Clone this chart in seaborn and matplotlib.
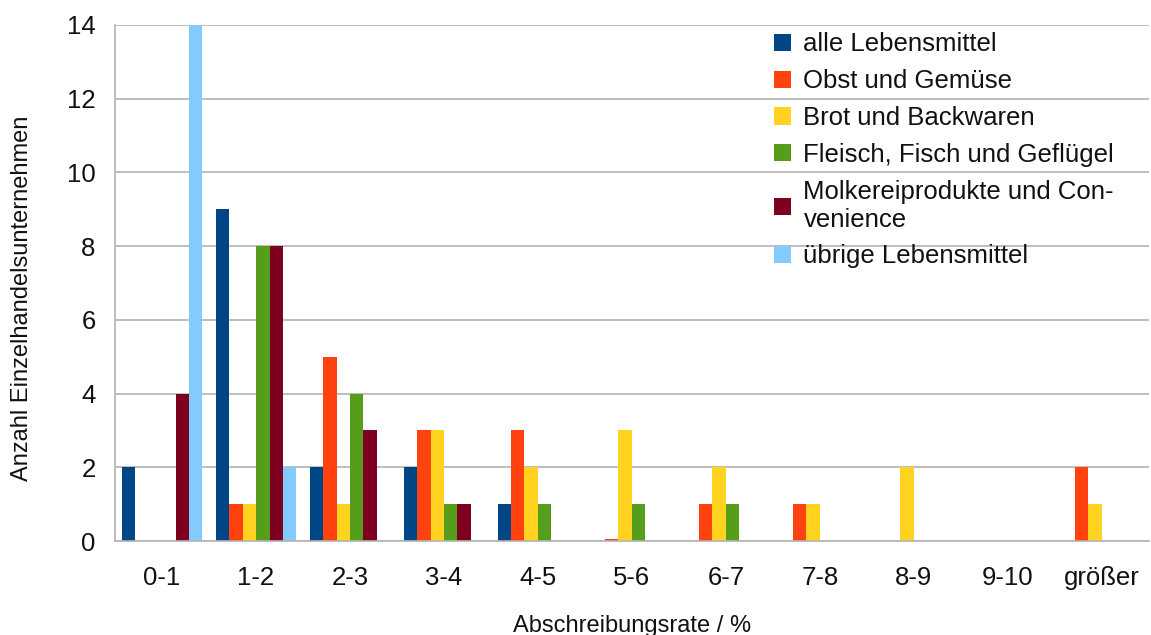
import pandas as pd
import seaborn as sns
import matplotlib.pyplot as plt
from matplotlib.patches import Patch

# values
categories = ["0-1", "1-2", "2-3", "3-4", "4-5", "5-6", "6-7", "7-8", "8-9", "9-10", "größer"]
alle = [2, 9, 2, 2, 1, 0, 0, 0, 0, 0, 0]
obst = [0, 1, 5, 3, 3, 0.05, 1, 1, 0, 0, 2]
brot = [0, 1, 1, 3, 2, 3, 2, 1, 2, 0, 1]
fleisch = [0, 8, 4, 1, 1, 1, 1, 0, 0, 0, 0]
molkerei = [4, 8, 3, 1, 0, 0, 0, 0, 0, 0, 0]
uebrige = [14, 2, 0, 0, 0, 0, 0, 0, 0, 0, 0]

series_names = ["alle Lebensmittel", "Obst und Gemüse", "Brot und Backwaren",
                "Fleisch, Fisch und Geflügel", "Molkereiprodukte und Con-\nvenience",
                "übrige Lebensmittel"]
colors = ["#004586", "#ff420e", "#ffd320", "#579d1c", "#7e0021", "#83caff"]

rows = []
for name, vals in zip(series_names, [alle, obst, brot, fleisch, molkerei, uebrige]):
    for cat, v in zip(categories, vals):
        rows.append({"Kategorie": cat, "Gruppe": name, "Anzahl": v})
df = pd.DataFrame(rows)

sns.set_style("white")
plt.rcParams["font.family"] = ["Liberation Sans", "DejaVu Sans"]
plt.rcParams["text.color"] = "#111111"
plt.rcParams["axes.labelcolor"] = "#111111"

fig = plt.figure(figsize=(11.51, 6.35), dpi=100)
ax = fig.add_axes([0.1, 0.148, 0.898, 0.813])

sns.barplot(data=df, x="Kategorie", y="Anzahl", hue="Gruppe", order=categories,
            hue_order=series_names, palette=colors, saturation=1, width=0.86,
            linewidth=0, legend=False, ax=ax)

ax.set_ylim(0, 14)
ax.set_xlim(-0.5, len(categories) - 0.5)
ax.set_yticks(range(0, 15, 2))
ax.yaxis.grid(True, color="#b3b3b3", linewidth=1.2)
ax.set_axisbelow(True)

# boundary ticks between categories
ax.set_xticks([i - 0.5 for i in range(len(categories) + 1)], minor=True)
ax.tick_params(axis="x", which="major", length=0, labelsize=18.5, pad=18, labelcolor="#111111")
ax.tick_params(axis="x", which="minor", length=12, color="#b3b3b3", width=1.2)
ax.tick_params(axis="y", length=10, color="#b3b3b3", width=1.2, labelsize=18.5, pad=4,
               labelcolor="#111111")

for side in ["top", "right"]:
    ax.spines[side].set_visible(False)
for side in ["left", "bottom"]:
    ax.spines[side].set_color("#b3b3b3")
    ax.spines[side].set_linewidth(1.2)

ax.set_xlabel("Abschreibungsrate / %", fontsize=17, labelpad=18)
ax.set_ylabel("Anzahl Einzelhandelsunternehmen", fontsize=17)
ax.yaxis.set_label_coords(-0.079, 0.471)

handles = [Patch(facecolor=c, edgecolor="none") for c in colors]
ax.legend(handles, series_names, loc="upper left", bbox_to_anchor=(0.615, 1.03),
          frameon=False, fontsize=18.5, handlelength=0.65, handleheight=0.65,
          handletextpad=0.5, labelspacing=0.5)

fig.savefig("out.png", dpi=100)
